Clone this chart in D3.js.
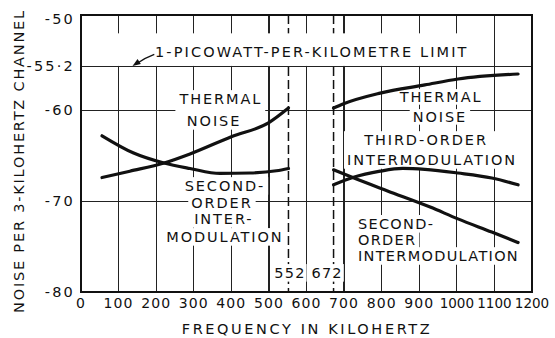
<!DOCTYPE html>
<html>
<head>
<meta charset="utf-8">
<script src="https://cdn.jsdelivr.net/npm/d3@7"></script>
<style>
  html, body { margin: 0; padding: 0; background: #fff; }
  #wrap { position: relative; width: 555px; height: 338px; }
  #rules { position: absolute; left: 0; top: 0; width: 555px; height: 338px; }
  #rules div { position: absolute; }
  svg { position: absolute; left: 0; top: 0; display: block; }
  text { font-family: "DejaVu Sans", sans-serif; fill: #111; }
</style>
</head>
<body>
<div id="wrap">
  <div id="rules"></div>
  <svg id="chart" width="555" height="338"></svg>
</div>
<script>
// ---- axis ticks ----
const freqTicks = [0, 100, 200, 300, 400, 500, 600, 700, 800, 900, 1000, 1100, 1200];
const levelTicks = [-50, -55.2, -60, -70, -80];
const levelTickLabels = ["-50", "-55·2", "-60", "-70", "-80"];
const gridFreqs = [100, 200, 300, 400, 500, 600, 700, 800, 900, 1000, 1100];
const limitLevel = -55.2;
const gridLevels = [limitLevel, -60, -70];
const bandEdges = [552, 672];

// ---- lower band (below 552 kHz) ----
const thermalLowFreq = [56, 130, 221, 290, 400, 500, 552];
const thermalLowDb   = [-67.4, -66.7, -65.8, -64.8, -62.9, -61.35, -59.75];
const secondLowFreq  = [56, 140, 221, 290, 370, 450, 520, 552];
const secondLowDb    = [-62.8, -64.7, -65.8, -66.4, -66.95, -66.9, -66.65, -66.4];

// ---- upper band (above 672 kHz) ----
const thermalHighFreq = [672, 697, 796, 915, 1003, 1163];
const thermalHighDb   = [-59.75, -59.3, -58.1, -57.2, -56.55, -56.0];
const thirdHighFreq   = [672, 723, 796, 856, 915, 1003, 1093, 1163];
const thirdHighDb     = [-68.2, -67.4, -66.7, -66.4, -66.5, -66.9, -67.45, -68.2];
const secondHighFreq  = [672, 723, 814, 929, 1003, 1093, 1163];
const secondHighDb    = [-66.55, -67.4, -68.85, -70.65, -71.95, -73.4, -74.55];

const series = [
  [thermalLowFreq, thermalLowDb],
  [secondLowFreq, secondLowDb],
  [thermalHighFreq, thermalHighDb],
  [thirdHighFreq, thirdHighDb],
  [secondHighFreq, secondHighDb]
];

// ---- scales ----
const x = d3.scaleLinear().domain([0, 1200]).range([81, 532]);
const y = d3.scaleLinear().domain([-80, -50]).range([292, 19.5]);
const frameTop = -49.5;

const ink = "#111";
const gridInk = "#222";

// ---- grid and frame rules (layer beneath the svg) ----
const rules = d3.select("#rules");
const vRule = (v, w, color) => rules.append("div")
  .style("left", `${x(v) - w / 2}px`).style("top", `${y(frameTop) - 1}px`)
  .style("width", `${w}px`).style("height", `${y(-80) - y(frameTop) + 2}px`)
  .style("background", color);
const hRule = (v, w, color) => rules.append("div")
  .style("left", `${x(0) - 1}px`).style("top", `${y(v) - w / 2}px`)
  .style("width", `${x(1200) - x(0) + 2}px`).style("height", `${w}px`)
  .style("background", color);
gridFreqs.forEach(f => vRule(f, 1.2, gridInk));
gridLevels.forEach(v => hRule(v, 1.2, gridInk));
hRule(frameTop, 2, ink);
hRule(-80, 2.4, ink);
vRule(0, 2.2, ink);
vRule(1200, 1.6, ink);

const svg = d3.select("#chart");

// band edges (dashed)
svg.append("g").selectAll("line").data(bandEdges).join("line")
  .attr("x1", d => x(d)).attr("x2", d => x(d))
  .attr("y1", y(frameTop)).attr("y2", y(-80))
  .attr("stroke", ink).attr("stroke-width", 1.5)
  .attr("stroke-dasharray", "9,4");

// ---- in-chart labels on white boxes ----
// pad: [top, right, bottom, left]; block: one box round all lines
const labels = [
  { lines: ["1-PICOWATT-PER-KILOMETRE LIMIT"], at: [[197, -53.6]], anchor: "start", ls: 2.1, pad: [13, 12, 8, 47], block: true },
  { lines: ["THERMAL", "NOISE"], at: [[372, -58.75], [354, -61.17]], anchor: "middle", ls: 1.9, pad: [3, 3, 3, 3], block: true },
  { lines: ["SECOND-", "ORDER", "INTER-", "MODULATION"],
    at: [[383, -68.33], [375, -70.2], [380, -71.96], [383, -73.94]], anchor: "middle", ls: 1.9, pad: [3, 3, 3, 3] },
  { lines: [String(bandEdges[0])], at: [[556, -77.9]], anchor: "middle", ls: 1.2, pad: [3, 1, 3, 1] },
  { lines: [String(bandEdges[1])], at: [[655, -77.9]], anchor: "middle", ls: 1.2, pad: [3, 1, 3, 1] },
  { lines: ["THERMAL", "NOISE"], at: [[958, -58.53], [955, -60.73]], anchor: "middle", ls: 1.9, pad: [2, 3, 2, 3] },
  { lines: ["THIRD-ORDER", "INTERMODULATION"], at: [[918, -63.27], [934, -65.47]], anchor: "middle", ls: 1.9, pad: [3, 3, 3, 3], block: true },
  { lines: ["SECOND-", "ORDER", "INTERMODULATION"],
    at: [[737, -72.5], [737, -74.27], [737, -76.04]], anchor: "start", ls: 1.3, pad: [3, 3, 3, 3] }
];

const labelLayer = svg.append("g");
const boxes = labelLayer.append("g");
const texts = labelLayer.append("g");
labels.forEach(lab => {
  const fs = 14.5;
  const nodes = lab.lines.map((t, i) => texts.append("text")
    .attr("x", x(lab.at[i][0]))
    .attr("y", y(lab.at[i][1]))
    .attr("dy", "0.36em")
    .attr("text-anchor", lab.anchor)
    .attr("font-size", fs)
    .attr("letter-spacing", lab.ls)
    .attr("fill", ink)
    .text(t).node());
  const bbs = nodes.map(n => {
    const b = n.getBBox();
    const cap = 0.73 * fs;
    const base = +n.getAttribute("y") + 0.36 * fs;
    return { x0: b.x, x1: b.x + b.width, y0: base - cap - 0.5, y1: base + 0.5 };
  });
  const groups = lab.block
    ? [{ x0: d3.min(bbs, b => b.x0), x1: d3.max(bbs, b => b.x1), y0: d3.min(bbs, b => b.y0), y1: d3.max(bbs, b => b.y1) }]
    : bbs;
  const [pt, pr, pb, pl] = lab.pad;
  groups.forEach(b => boxes.append("rect")
    .attr("x", b.x0 - pl).attr("y", b.y0 - pt)
    .attr("width", b.x1 - b.x0 + pl + pr).attr("height", b.y1 - b.y0 + pt + pb)
    .attr("fill", "#fff").attr("stroke", "none"));
});

// ---- curves ----
const curve = d3.line()
  .x(d => x(d[0])).y(d => y(d[1]))
  .curve(d3.curveMonotoneX);
svg.append("g").selectAll("path").data(series).join("path")
  .attr("d", s => curve(d3.zip(s[0], s[1])))
  .attr("fill", "none").attr("stroke", ink)
  .attr("stroke-width", 3.2).attr("stroke-linecap", "round");

// ---- arrow to the limit line ----
const tail = [x(195), y(-53.85)];
const tip = [x(137), y(limitLevel) - 0.8];
const ctrl = [(tail[0] + tip[0]) / 2 + 1, (tail[1] + tip[1]) / 2 - 2];
svg.append("path")
  .attr("d", `M${tail[0]},${tail[1]} Q${ctrl[0]},${ctrl[1]} ${tip[0] + 4},${tip[1] - 2.2}`)
  .attr("fill", "none").attr("stroke", ink).attr("stroke-width", 1.3);
{
  const ang = Math.atan2(tip[1] - ctrl[1], tip[0] - ctrl[0]);
  const L = 8, Wd = 3;
  const bx = tip[0] - L * Math.cos(ang), by = tip[1] - L * Math.sin(ang);
  const nx = -Math.sin(ang) * Wd, ny = Math.cos(ang) * Wd;
  svg.append("path")
    .attr("d", `M${tip[0]},${tip[1]} L${bx + nx},${by + ny} L${bx - nx},${by - ny} Z`)
    .attr("fill", ink).attr("stroke", "none");
}

// ---- tick labels, placed by the scales ----
svg.append("g").selectAll("text").data(freqTicks).join("text")
  .attr("x", d => x(d))
  .attr("y", y(-80) + 6)
  .attr("dy", "0.71em")
  .attr("text-anchor", "middle")
  .attr("font-size", d => d >= 1000 ? 13.5 : 14)
  .attr("letter-spacing", d => d >= 1000 ? 0 : 1.1)
  .attr("fill", ink)
  .text(d3.format("d"));

svg.append("g").selectAll("text").data(levelTicks).join("text")
  .attr("x", x(0) - 6)
  .attr("y", d => y(d))
  .attr("dy", "0.32em")
  .attr("text-anchor", "end")
  .attr("font-size", 14.5)
  .attr("letter-spacing", 2.2)
  .attr("fill", ink)
  .text((d, i) => levelTickLabels[i]);

// axis titles
svg.append("text")
  .attr("x", 307).attr("y", 333.5)
  .attr("text-anchor", "middle")
  .attr("font-size", 14.5).attr("letter-spacing", 2.6).attr("fill", ink)
  .text("FREQUENCY IN KILOHERTZ");
svg.append("text")
  .attr("transform", "translate(23.5,161) rotate(-90)")
  .attr("text-anchor", "middle")
  .attr("font-size", 14.5).attr("letter-spacing", 1.8).attr("fill", ink)
  .text("NOISE PER 3-KILOHERTZ CHANNEL");
</script>
</body>
</html>
